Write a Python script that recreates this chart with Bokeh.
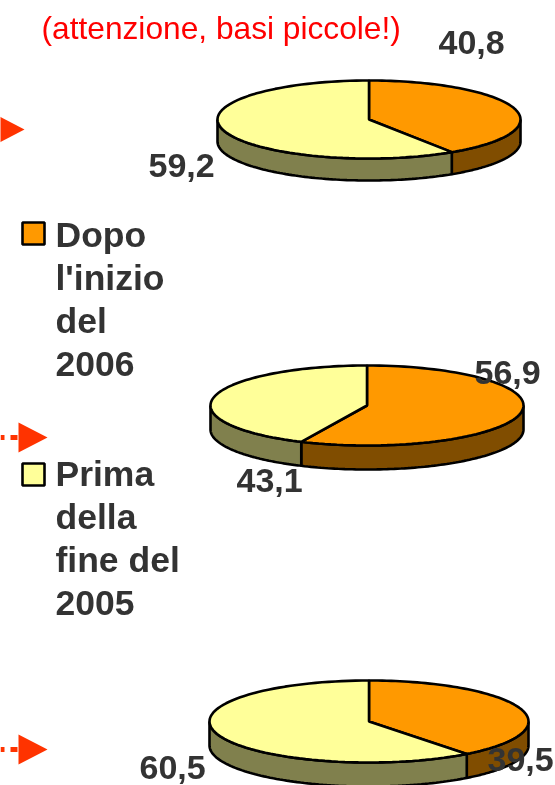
import numpy as np
from bokeh.plotting import figure
from bokeh.models import Range1d
from bokeh.core.properties import value
from bokeh.embed import file_html
from bokeh.resources import INLINE

# Data
after_2006 = [40.8, 56.9, 39.5]
before_2005 = [59.2, 43.1, 60.5]
after_labels = ["40,8", "56,9", "39,5"]
before_labels = ["59,2", "43,1", "60,5"]
legend_after = ["Dopo", "l'inizio", "del", "2006"]
legend_before = ["Prima", "della", "fine del", "2005"]
note = "(attenzione, basi piccole!)"

# Styles / layout
ORANGE, ORANGE_D = "#FF9900", "#804D00"
YELLOW, YELLOW_D = "#FFFF99", "#80804D"
TEXT = "#333333"
RED = "#FF3300"
pies = [dict(cx=368.5, cy=119, rx=151.5, ry=39, d=22),
        dict(cx=366.5, cy=405, rx=156.5, ry=40, d=24),
        dict(cx=368.5, cy=721, rx=159.5, ry=41, d=24)]
after_pos = [(438, 55), (474, 385), (487, 772)]
before_pos = [(148, 178), (236, 493), (139, 780)]

p = figure(width=555, height=785, output_backend="svg", toolbar_location=None,
           x_range=Range1d(0, 555), y_range=Range1d(785, 0), min_border=0,
           outline_line_color=None)
p.axis.visible = False
p.grid.visible = False
p.styles = {"position": "fixed", "left": "0px", "top": "0px"}


def pts(g, a0, a1, n=90):
    t = np.radians(np.linspace(a0, a1, n))
    return g["cx"] + g["rx"] * np.sin(t), g["cy"] - g["ry"] * np.cos(t)


def side(g, a0, a1, fill):
    a0, a1 = max(a0, 90), min(a1, 270)
    if a1 <= a0:
        return
    x, y = pts(g, a0, a1)
    xs = np.r_[x, x[::-1]]
    ys = np.r_[y, (y + g["d"])[::-1]]
    p.patch(xs, ys, fill_color=fill, line_color="black", line_width=2.6)


def top(g, a0, a1, fill):
    x, y = pts(g, a0, a1)
    p.patch(np.r_[g["cx"], x], np.r_[g["cy"], y], fill_color=fill,
            line_color="black", line_width=2.6)


for g, a, b in zip(pies, after_2006, before_2005):
    split = 360 * a / (a + b)
    side(g, 0, split, ORANGE_D)
    side(g, split, 360, YELLOW_D)
    top(g, 0, split, ORANGE)
    top(g, split, 360, YELLOW)


def label(x, y, s, size=34, color=TEXT, style="bold"):
    # y is the wanted baseline; the SVG text sits lower than asked, so lift it
    p.text([x], [y - 0.37 * size], text=[s], text_font=value("Liberation Sans"), text_font_size=f"{size}px",
           text_font_style=style, text_color=color, text_align="left", text_baseline="alphabetic")


for (x, y), s in zip(after_pos + before_pos, after_labels + before_labels):
    label(x, y, s)

label(41, 39, note, size=31.7, color="#FF0000", style="normal")

for i, s in enumerate(legend_after):
    label(55, 248 + 43 * i, s, size=35.5)
for i, s in enumerate(legend_before):
    label(55, 487 + 43 * i, s, size=35.5)

p.quad(left=[22, 22], right=[44, 44], top=[222, 463], bottom=[244, 485],
       fill_color=[ORANGE, YELLOW], line_color="black", line_width=2.6)

# Arrows
p.patch([-5, 24, -5], [114, 129, 144], fill_color=RED, line_color=None)
for y in (437, 749):
    p.patch([18, 47, 18], [y - 15, y, y + 15], fill_color=RED, line_color=None)
    p.segment([17], [y], [0], [y], line_color=RED, line_width=5, line_dash="7 6")

open("out.html", "w").write(file_html(p, INLINE))
